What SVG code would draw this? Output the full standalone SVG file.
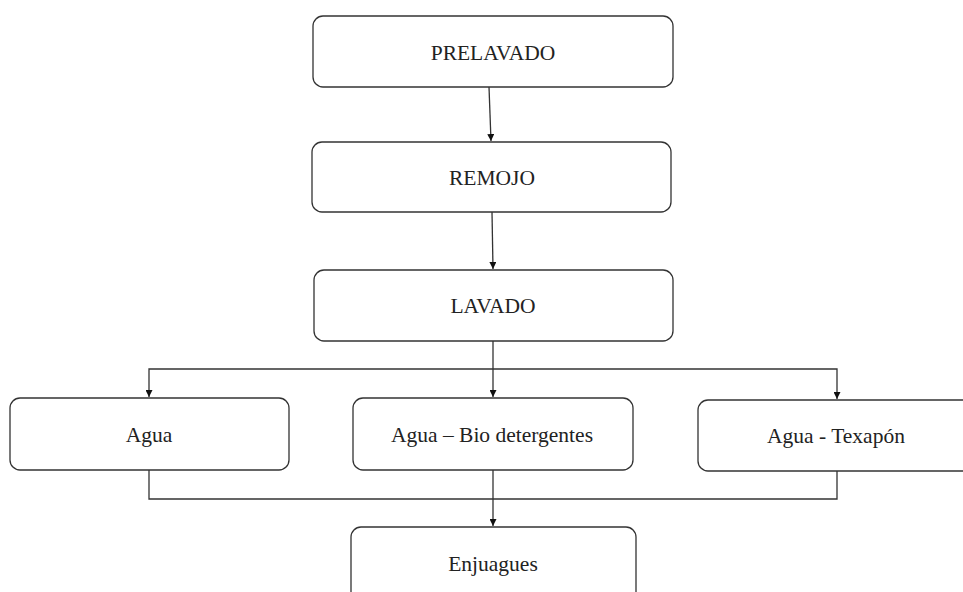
<svg xmlns="http://www.w3.org/2000/svg" width="963" height="592" viewBox="0 0 963 592">
<style>
.box{fill:#fff;stroke:#333;stroke-width:1.3}
.lbl{font-family:"Liberation Serif","Times New Roman",serif;font-size:21.5px;fill:#222;text-anchor:middle}
.ln{fill:none;stroke:#333;stroke-width:1.3}
</style>
<defs>
<marker id="ah" viewBox="0 0 10 10" refX="10" refY="5" markerWidth="7" markerHeight="7" markerUnits="userSpaceOnUse" orient="auto">
<path d="M0,0 L10,5 L0,10 z" fill="#111"/>
</marker>
</defs>
<rect width="963" height="592" fill="#fff"/>
<g id="connectors">
<line class="ln" x1="489" y1="87" x2="491" y2="141" marker-end="url(#ah)"/>
<line class="ln" x1="492" y1="212" x2="493" y2="269" marker-end="url(#ah)"/>
<line class="ln" x1="493" y1="341" x2="493" y2="397" marker-end="url(#ah)"/>
<polyline class="ln" points="493,369 149,369 149,397" marker-end="url(#ah)"/>
<polyline class="ln" points="493,369 837,369 837,399" marker-end="url(#ah)"/>
<polyline class="ln" points="149,470 149,499 837,499 837,471"/>
<line class="ln" x1="493" y1="470" x2="493" y2="526" marker-end="url(#ah)"/>
</g>
<g id="prelavado">
<rect class="box" x="313" y="16" width="360" height="71" rx="10"/>
<text class="lbl" x="493" y="60">PRELAVADO</text>
</g>
<g id="remojo">
<rect class="box" x="312" y="142" width="359" height="70" rx="10"/>
<text class="lbl" x="492" y="185">REMOJO</text>
</g>
<g id="lavado">
<rect class="box" x="314" y="270" width="359" height="71" rx="10"/>
<text class="lbl" x="493" y="313">LAVADO</text>
</g>
<g id="agua">
<rect class="box" x="10" y="398" width="279" height="72" rx="10"/>
<text class="lbl" x="149" y="442">Agua</text>
</g>
<g id="agua-bio">
<rect class="box" x="353" y="398" width="280" height="72" rx="10"/>
<text class="lbl" x="492" y="442">Agua – Bio detergentes</text>
</g>
<g id="agua-texapon">
<rect class="box" x="698" y="400" width="282" height="71" rx="10"/>
<text class="lbl" x="836" y="443">Agua - Texapón</text>
</g>
<g id="enjuagues">
<rect class="box" x="351" y="527" width="285" height="75" rx="10"/>
<text class="lbl" x="493" y="571">Enjuagues</text>
</g>
</svg>
